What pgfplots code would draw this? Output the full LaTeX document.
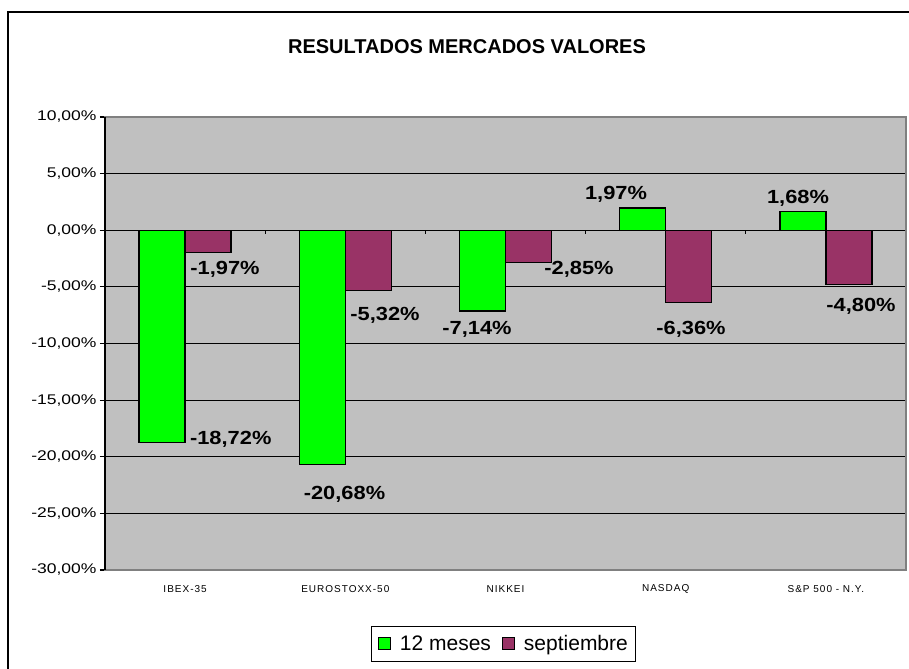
\documentclass[border=0pt]{standalone}
\usepackage{pgfplots}
\pgfplotsset{compat=1.18}
\usepackage{fontspec}
\setmainfont{Liberation Sans}
\newfontfamily\tickfont[FakeStretch=1.25]{Liberation Sans}
\newfontfamily\lblfont[FakeStretch=1.15]{Liberation Sans}
\newfontfamily\catfont[LetterSpace=10]{Liberation Sans}
\definecolor{barGreen}{HTML}{00FF00}
\definecolor{barMaroon}{HTML}{993366}
\definecolor{bgGray}{HTML}{C0C0C0}
\definecolor{frameGray}{HTML}{808080}
\begin{document}
\begin{tikzpicture}
\useasboundingbox (0,0) rectangle (909bp,669bp);
\draw[line width=1.6bp] (8bp,0) -- (8bp,657bp) -- (909bp,657bp);
\node[font=\bfseries\fontsize{20bp}{24bp}\selectfont] at (467bp,622bp) {RESULTADOS MERCADOS VALORES};
\begin{axis}[
  at={(105bp,99bp)}, anchor=south west,
  scale only axis, width=801bp, height=453bp,
  xmin=-0.5, xmax=4.5, ymin=-30, ymax=10,
  clip=false,
  ybar=0pt, bar width=46bp,
  axis background/.style={fill=bgGray},
  axis line style={draw=frameGray, line width=1.2bp},
  ymajorgrids, grid style={black, line width=1.2bp},
  xtick={0,1,2,3,4},
  xticklabels={IBEX-35,EUROSTOXX-50,NIKKEI,NASDAQ,S\&P 500 - N.Y.},
  x tick label style={font=\catfont\fontsize{10bp}{12bp}\selectfont, anchor=center, yshift=-14bp},
  major x tick style={draw=none},
  ytick={-30,-25,-20,-15,-10,-5,0,5,10},
  yticklabels={{-30,00\%},{-25,00\%},{-20,00\%},{-15,00\%},{-10,00\%},{-5,00\%},{0,00\%},{5,00\%},{10,00\%}},
  y tick label style={font=\tickfont\fontsize{14bp}{16bp}\selectfont},
  ytick pos=left, xtick pos=bottom,
  tick align=outside, major tick length=5bp,
  major y tick style={black, line width=1.2bp},
  legend style={at={(0.498,-0.163)}, anchor=center, legend columns=2, draw=black, line width=1bp,
    font=\fontsize{21bp}{24bp}\selectfont, inner xsep=6bp, inner ysep=7bp,
    /tikz/every odd column/.append style={column sep=7bp},
    /tikz/every even column/.append style={column sep=9bp}},
]
\addplot[fill=barGreen, draw=black, line width=1.3bp,
  legend image code/.code={\draw[fill=barGreen,draw=black,line width=1bp] (0bp,-6bp) rectangle (12bp,6bp);}]
  coordinates {(0,-18.72) (1,-20.68) (2,-7.14) (3,1.97) (4,1.68)};
\addlegendentry{12 meses}
\addplot[fill=barMaroon, draw=black, line width=1.3bp,
  legend image code/.code={\draw[fill=barMaroon,draw=black,line width=1bp] (0bp,-6bp) rectangle (12bp,6bp);}]
  coordinates {(0,-1.97) (1,-5.32) (2,-2.85) (3,-6.36) (4,-4.80)};
\addlegendentry{septiembre}
\draw[black, line width=1.3bp] (axis cs:-0.5,-30) -- (axis cs:-0.5,10);
\draw[black, line width=1.2bp] (axis cs:0.5,0) -- ([yshift=-4bp]axis cs:0.5,0);
\draw[black, line width=1.2bp] (axis cs:1.5,0) -- ([yshift=-4bp]axis cs:1.5,0);
\draw[black, line width=1.2bp] (axis cs:2.5,0) -- ([yshift=-4bp]axis cs:2.5,0);
\draw[black, line width=1.2bp] (axis cs:3.5,0) -- ([yshift=-4bp]axis cs:3.5,0);
\begin{scope}[every node/.style={font=\lblfont\bfseries\fontsize{19bp}{22bp}\selectfont, inner sep=0pt}]
\node at (axis cs:0.249,-3.42) {-1,97\%};
\node at (axis cs:0.285,-18.47) {-18,72\%};
\node at (axis cs:1.248,-7.50) {-5,32\%};
\node at (axis cs:0.995,-23.34) {-20,68\%};
\node at (axis cs:1.822,-8.74) {-7,14\%};
\node at (axis cs:2.459,-3.42) {-2,85\%};
\node at (axis cs:2.690,3.21) {1,97\%};
\node at (axis cs:3.158,-8.74) {-6,36\%};
\node at (axis cs:3.826,2.86) {1,68\%};
\node at (axis cs:4.219,-6.70) {-4,80\%};
\end{scope}
\end{axis}
\end{tikzpicture}
\end{document}
